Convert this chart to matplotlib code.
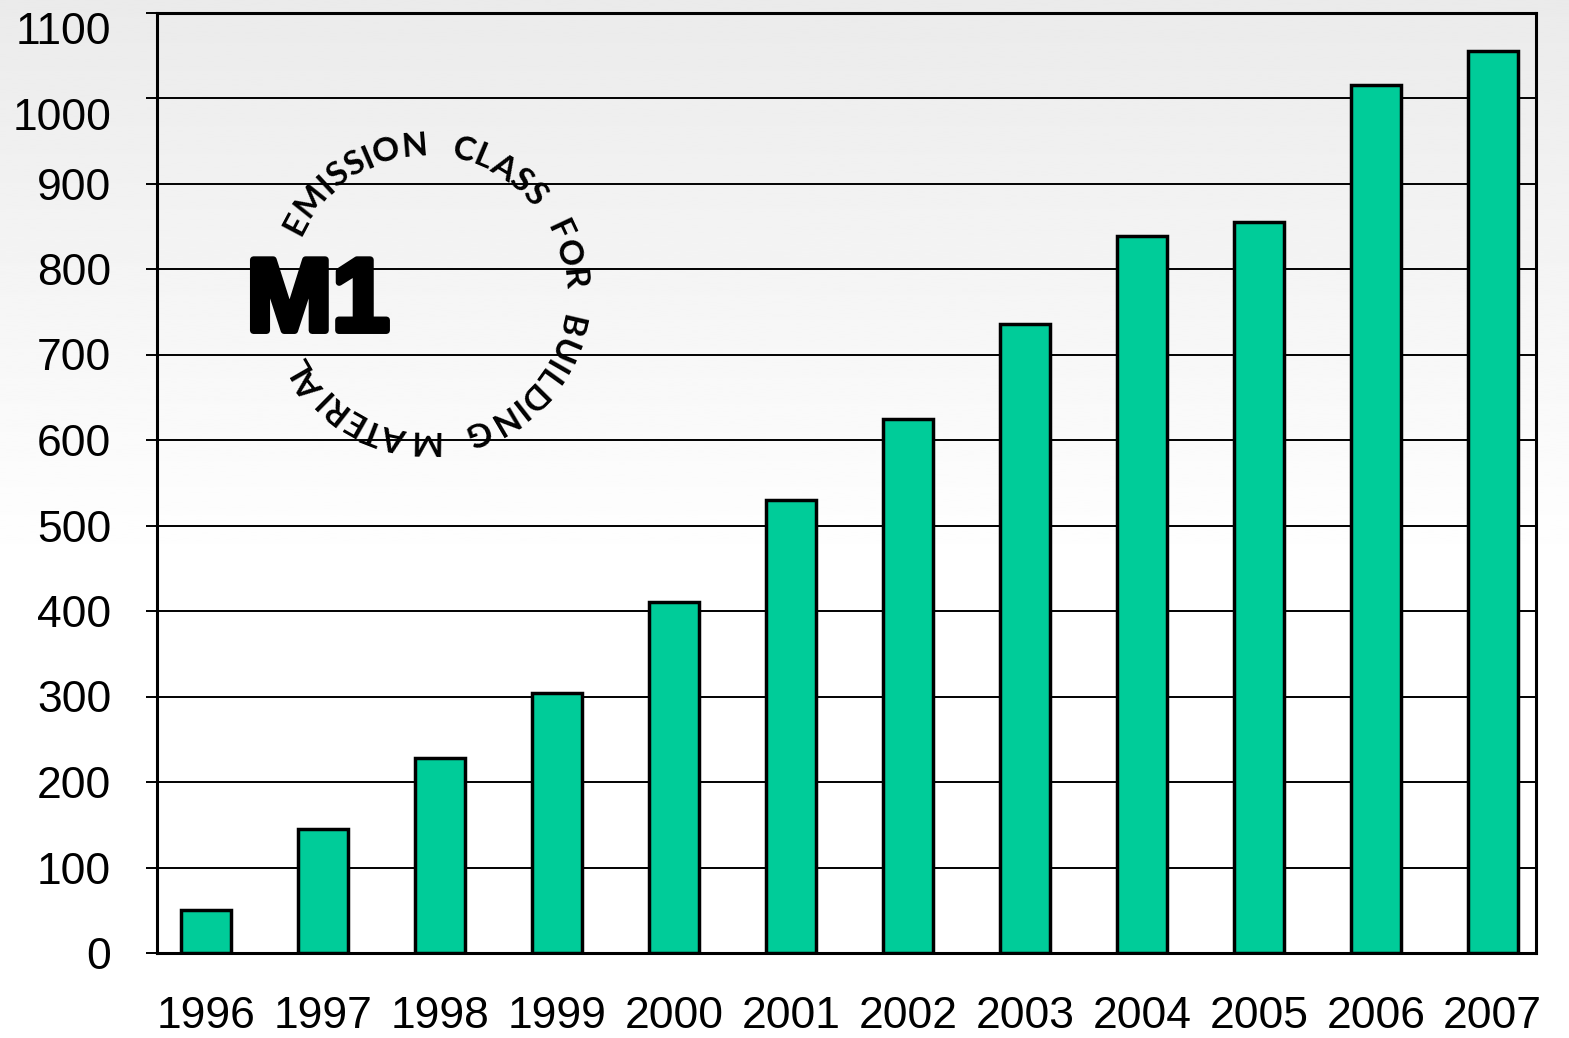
#--Bar chart of M1 classified building products per year,
#--with the "M1 emission class" ring logo drawn on top

import numpy as np
import matplotlib
matplotlib.use("Agg")
import matplotlib.pyplot as plt
import matplotlib.patheffects as pe
from matplotlib.font_manager import FontProperties
from matplotlib.textpath import TextToPath

#--Data
years = ['1996', '1997', '1998', '1999', '2000', '2001',
         '2002', '2003', '2004', '2005', '2006', '2007']
counts = [50, 145, 228, 304, 410, 530, 625, 736, 839, 855, 1015, 1055]
yticks = [0, 100, 200, 300, 400, 500, 600, 700, 800, 900, 1000, 1100]
ring_text = "EMISSION CLASS FOR BUILDING MATERIAL"
logo_text = "M1"

W, H = 1569, 1038
fig = plt.figure(figsize=(W/100, H/100), dpi=100)

#--Gray-to-white background gradient
bg = fig.add_axes([0, 0, 1, 1], zorder=0)
g = np.ones(400)
n = int(0.55*len(g))
g[:n] = np.linspace(0.92, 1.0, n)
bg.imshow(g[:, None], cmap='gray', vmin=0, vmax=1, aspect='auto',
          extent=[0, 1, 0, 1], interpolation='bilinear')
bg.set_axis_off()

#--Main axes
ax = fig.add_axes([157/W, (H-953)/H, (1536-157)/W, (953-12.5)/H], zorder=1)
ax.patch.set_alpha(0)
x = np.arange(len(years))
ax.bar(x, counts, width=0.43, color='#00CC99', edgecolor='black',
       linewidth=2.5, zorder=3)
ax.set_xlim(-0.42, 11.37)
ax.set_ylim(0, 1100)
ax.set_yticks(yticks)
ax.set_xticks(x)
ax.set_xticklabels(years)
ax.yaxis.grid(True, color='black', linewidth=1.4, zorder=1)
ax.set_axisbelow(True)
for s in ax.spines.values():
    s.set_linewidth(2.2)
    s.set_color('black')
ax.tick_params(axis='y', length=8, width=1.4, pad=25)
ax.tick_params(axis='x', length=0, pad=31)
for lab in ax.get_xticklabels() + ax.get_yticklabels():
    lab.set_family('Liberation Sans')
    lab.set_fontsize(32)
#--top two labels sit below their lines in the original
ylabs = ax.get_yticklabels()
ylabs[-1].set_verticalalignment('top')
ylabs[-2].set_verticalalignment('top')

#--M1 logo: letters around a circle, tops pointing outward
cx, cy, r = 426, 293, 147
a0, a1 = 152.0, -150.0
fp = FontProperties(family='Lato', weight='bold', size=24)
t2p = TextToPath()
widths = [t2p.get_text_width_height_descent(ch, fp, ismath=False)[0]
          for ch in ring_text]
widths = [w if ch != ' ' else 16 for ch, w in zip(ring_text, widths)]
cum = np.cumsum(widths) - np.array(widths)/2
frac = (cum - cum[0])/(cum[-1] - cum[0])
for ch, f in zip(ring_text, frac):
    if ch == ' ':
        continue
    ang = np.radians(a0 + f*(a1 - a0))
    px = cx + r*np.cos(ang)
    py = cy - r*np.sin(ang)
    fig.text(px/W, 1 - py/H, ch, fontproperties=fp, ha='center', va='center',
             rotation=np.degrees(ang) - 90, rotation_mode='anchor', zorder=5)

fig.text(318/W, 1 - 304/H, logo_text, family='Liberation Sans', weight='bold',
         fontsize=74, ha='center', va='center', zorder=5,
         path_effects=[pe.withStroke(linewidth=5, foreground='black')])

fig.savefig('out.png', dpi=100)
